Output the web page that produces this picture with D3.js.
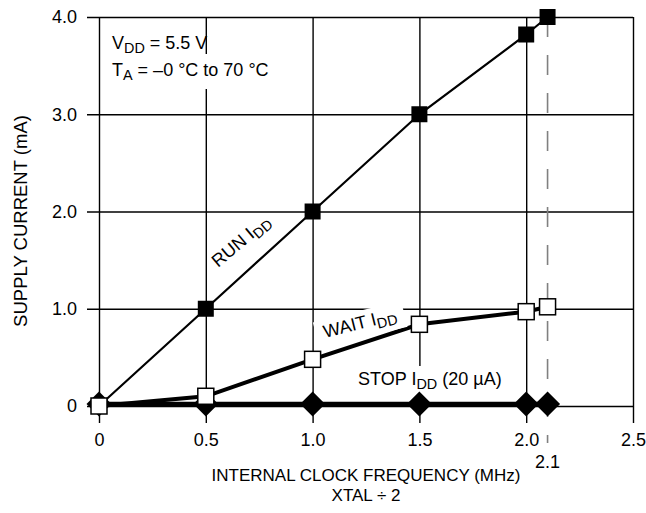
<!DOCTYPE html>
<html>
<head>
<meta charset="utf-8">
<script src="https://cdn.jsdelivr.net/npm/d3@7"></script>
<style>
  body { margin: 0; background: #fff; }
  text { font-family: "Liberation Sans", Arial, Helvetica, sans-serif; fill: #000; }
</style>
</head>
<body>
<div id="chart"></div>
<script>
// Supply current vs internal clock frequency
var freq    = [0, 0.5, 1.0, 1.5, 2.0, 2.1];
var runIdd  = [0, 1.0, 2.0, 3.0, 3.82, 4.0];
var waitIdd = [0, 0.1, 0.48, 0.84, 0.97, 1.02];
var stopIdd = [0.02, 0.02, 0.02, 0.02, 0.02, 0.02];

var xTicks = [0, 0.5, 1.0, 1.5, 2.0, 2.5];
var xTickLabels = ["0", "0.5", "1.0", "1.5", "2.0", "2.5"];
var yTicks = [0, 1, 2, 3, 4];
var yTickLabels = ["0", "1.0", "2.0", "3.0", "4.0"];
var markFreq = 2.1;
var markLabel = "2.1";

var width = 646, height = 513;
var margin = {top: 17, right: 13, bottom: 107, left: 99};
var w = width - margin.left - margin.right;
var h = height - margin.top - margin.bottom;

var svg = d3.select("#chart")
  .append("svg")
    .attr("width", width)
    .attr("height", height)
  .append("g")
    .attr("transform", "translate(" + margin.left + "," + margin.top + ")");

var x = d3.scaleLinear().domain([0, 2.5]).range([0, w]);
var y = d3.scaleLinear().domain([0, 4]).range([h, 0]);

///////////////////////// grid + axes
var xAxis = svg.append("g")
  .attr("transform", "translate(0," + (h + 17) + ")")
  .call(d3.axisBottom(x)
    .tickValues(xTicks)
    .tickFormat(function(d, i) { return xTickLabels[i]; })
    .tickSize(-(h + 17))
    .tickPadding(10));

var yAxis = svg.append("g")
  .attr("transform", "translate(-12,0)")
  .call(d3.axisLeft(y)
    .tickValues(yTicks)
    .tickFormat(function(d, i) { return yTickLabels[i]; })
    .tickSize(-(w + 12))
    .tickPadding(10));

[xAxis, yAxis].forEach(function(a) {
  a.select(".domain").remove();
  a.selectAll(".tick line").attr("stroke", "#000").attr("stroke-width", 1.4);
  a.selectAll(".tick text").style("font-size", "18px").attr("fill", "#000");
});
yAxis.selectAll(".tick line").attr("x1", 0);

// extra tick label under 2.0
svg.append("text")
  .attr("x", x(markFreq))
  .attr("y", h + 62)
  .attr("text-anchor", "middle")
  .style("font-size", "18px")
  .text(markLabel);

// dashed reference line
svg.append("line")
  .attr("x1", x(markFreq)).attr("x2", x(markFreq))
  .attr("y1", y(4)).attr("y2", h + 37)
  .attr("stroke", "#808080")
  .attr("stroke-width", 1.6)
  .attr("stroke-dasharray", "20,18");

///////////////////////// label helper (subscripts)
function subText(g, parts, size) {
  var t = g.append("text").style("font-size", size + "px");
  var shift = 0;
  parts.forEach(function(p) {
    var s = t.append("tspan").text(p[0]);
    if (p[1]) {
      s.style("font-size", (size * 0.8) + "px").attr("dy", 4);
      shift = 4;
    } else if (shift) {
      s.attr("dy", -shift);
      shift = 0;
    }
  });
  return t;
}

function knockout(g, t, pad) {
  var b = t.node().getBBox();
  g.insert("rect", "text")
    .attr("x", b.x - pad[0]).attr("y", b.y - pad[1])
    .attr("width", b.width + pad[0] * 2).attr("height", b.height + pad[1] * 2)
    .attr("fill", "#fff");
}

// conditions
var condG = svg.append("g").attr("transform", "translate(13,32)");
subText(condG, [["V"], ["DD", true], [" = 5.5 V"]], 18);
var taG = svg.append("g").attr("transform", "translate(13,59)");
var ta = subText(taG, [["T"], ["A", true], [" = \u20130 \u00b0C to 70 \u00b0C"]], 18);
knockout(taG, ta, [2, 6]);

// stop label
var stopG = svg.append("g")
  .attr("transform", "translate(" + x(1.213) + "," + y(0.216) + ")");
var st = subText(stopG, [["STOP I"], ["DD", true], [" (20 \u00b5A)"]], 18);
knockout(stopG, st, [3, 3]);

///////////////////////// series
var pts = function(vals) { return freq.map(function(f, i) { return [f, vals[i]]; }); };
var line = d3.line().x(function(d) { return x(d[0]); }).y(function(d) { return y(d[1]); });

// STOP
svg.append("path").datum(pts(stopIdd))
  .attr("fill", "none").attr("stroke", "#000").attr("stroke-width", 4.5)
  .attr("d", line);
svg.selectAll(".stopPt").data(pts(stopIdd)).enter()
  .append("path")
    .attr("class", "stopPt")
    .attr("transform", function(d) { return "translate(" + x(d[0]) + "," + y(d[1]) + ")"; })
    .attr("d", "M0,-12.5L12.5,0L0,12.5L-12.5,0Z")
    .attr("fill", "#000");

// RUN
svg.append("path").datum(pts(runIdd))
  .attr("fill", "none").attr("stroke", "#000").attr("stroke-width", 2.2)
  .attr("d", line);
svg.selectAll(".runPt").data(pts(runIdd)).enter()
  .append("rect")
    .attr("class", "runPt")
    .attr("x", function(d) { return x(d[0]) - 8; })
    .attr("y", function(d) { return y(d[1]) - 8; })
    .attr("width", 16).attr("height", 16)
    .attr("fill", "#000");

// WAIT
svg.append("path").datum(pts(waitIdd))
  .attr("fill", "none").attr("stroke", "#000").attr("stroke-width", 4)
  .attr("d", line);
svg.selectAll(".waitPt").data(pts(waitIdd)).enter()
  .append("rect")
    .attr("class", "waitPt")
    .attr("x", function(d) { return x(d[0]) - 8; })
    .attr("y", function(d) { return y(d[1]) - 8; })
    .attr("width", 16).attr("height", 16)
    .attr("fill", "#fff")
    .attr("stroke", "#000").attr("stroke-width", 1.5);

// line labels
var runG = svg.append("g")
  .attr("transform", "translate(" + x(0.557) + "," + y(1.42) + ") rotate(-40)");
subText(runG, [["RUN I"], ["DD", true]], 18);

var waitG = svg.append("g")
  .attr("transform", "translate(" + x(1.058) + "," + y(0.70) + ") rotate(-14)");
var wt = subText(waitG, [["WAIT I"], ["DD", true]], 18);
knockout(waitG, wt, [8, 2]);

///////////////////////// axis titles
svg.append("text")
  .attr("transform", "translate(-72," + (221 - margin.top) + ") rotate(-90)")
  .attr("text-anchor", "middle")
  .style("font-size", "18.5px")
  .text("SUPPLY CURRENT (mA)");

svg.append("text")
  .attr("x", w / 2)
  .attr("y", h + 75)
  .attr("text-anchor", "middle")
  .style("font-size", "17px")
  .text("INTERNAL CLOCK FREQUENCY (MHz)");

svg.append("text")
  .attr("x", w / 2)
  .attr("y", h + 95)
  .attr("text-anchor", "middle")
  .style("font-size", "17px")
  .text("XTAL \u00f7 2");
</script>
</body>
</html>
